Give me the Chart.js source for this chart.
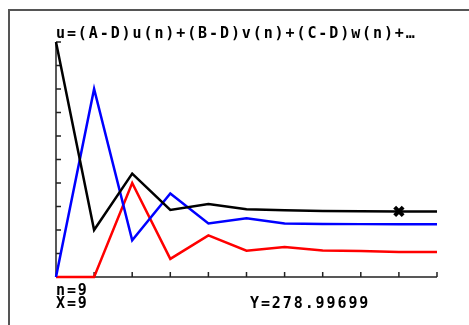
<!DOCTYPE html>
<html>
<head>
<meta charset="utf-8">
<script src="https://cdn.jsdelivr.net/npm/chart.js@4/dist/chart.umd.min.js"></script>
<style>
  html, body { margin: 0; padding: 0; background: #fff; }
  #wrap { width: 469px; height: 325px; position: relative; }
</style>
</head>
<body>
<div id="wrap"><canvas id="seqChart" width="469" height="325"></canvas></div>
<script>
// sequence data (n = 0..10)
const nValues = [0, 1, 2, 3, 4, 5, 6, 7, 8, 9, 10];
const uSeries = [1000, 200, 440, 285, 311, 288, 284, 281, 280, 279, 279];
const vSeries = [0, 800, 156, 355, 228, 250, 228, 226, 225, 224, 224];
const wSeries = [0, 0, 400, 77, 177, 112, 128, 113, 111, 106, 106];
const xTicks = [0, 1, 2, 3, 4, 5, 6, 7, 8, 9, 10];
const yTicks = [0, 100, 200, 300, 400, 500, 600, 700, 800, 900, 1000];

const titleText = "u=(A-D)u(n)+(B-D)v(n)+(C-D)w(n)+…";
const cursorN = 9;
const cursorY = "278.99699";

const toPoints = (ys) => ys.map((y, i) => ({ x: nValues[i], y: y }));

const tiFont = "bold 15px 'DejaVu Sans Mono', monospace";

// axes, ticks, frame and screen text
const calcScreen = {
  id: "calcScreen",
  beforeDatasetsDraw(chart) {
    const ctx = chart.ctx;
    const xs = chart.scales.x;
    const ys = chart.scales.y;
    const x0 = xs.getPixelForValue(0);
    const y0 = ys.getPixelForValue(0);
    ctx.save();
    // outer frame
    ctx.strokeStyle = "#555";
    ctx.lineWidth = 2;
    ctx.beginPath();
    ctx.moveTo(9, 325);
    ctx.lineTo(9, 10);
    ctx.lineTo(469, 10);
    ctx.stroke();
    // axes
    ctx.strokeStyle = "#222";
    ctx.lineWidth = 1.5;
    ctx.beginPath();
    ctx.moveTo(x0, y0);
    ctx.lineTo(xs.getPixelForValue(10), y0);
    ctx.moveTo(x0, y0);
    ctx.lineTo(x0, ys.getPixelForValue(1000));
    xTicks.forEach((t) => {
      const px = xs.getPixelForValue(t);
      ctx.moveTo(px, y0);
      ctx.lineTo(px, y0 - 5);
    });
    yTicks.forEach((t) => {
      const py = ys.getPixelForValue(t);
      ctx.moveTo(x0, py);
      ctx.lineTo(x0 + 5, py);
    });
    ctx.stroke();
    // text
    ctx.fillStyle = "#000";
    ctx.font = tiFont;
    ctx.letterSpacing = "1.9px";
    ctx.textBaseline = "alphabetic";
    ctx.fillText(titleText, 56, 38);
    ctx.fillText("n=" + cursorN, 56, 295);
    ctx.fillText("X=" + cursorN, 56, 308);
    ctx.fillText("Y=" + cursorY, 250, 308);
    ctx.restore();
  },
};

new Chart(document.getElementById("seqChart"), {
  type: "line",
  data: {
    datasets: [
      {
        label: "u",
        data: toPoints(uSeries),
        borderColor: "#000000",
        borderWidth: 2.5,
        pointRadius: 0,
        tension: 0,
        clip: false,
      },
      {
        label: "v",
        data: toPoints(vSeries),
        borderColor: "#0000ff",
        borderWidth: 2.5,
        pointRadius: 0,
        tension: 0,
        clip: false,
      },
      {
        label: "w",
        data: toPoints(wSeries),
        borderColor: "#ff0000",
        borderWidth: 2.5,
        pointRadius: 0,
        tension: 0,
        clip: false,
      },
      {
        // trace cursor on u(9)
        label: "cursor",
        data: [{ x: cursorN, y: uSeries[cursorN] }],
        showLine: false,
        pointStyle: "crossRot",
        pointRadius: 6,
        pointBorderWidth: 4,
        borderColor: "#000000",
        clip: false,
        order: -1,
      },
    ],
  },
  options: {
    responsive: false,
    animation: false,
    layout: { padding: { left: 56, right: 32, top: 42, bottom: 48 } },
    plugins: {
      legend: { display: false },
      tooltip: { enabled: false },
    },
    scales: {
      x: { type: "linear", min: 0, max: 10, display: false },
      y: { type: "linear", min: 0, max: 1000, display: false },
    },
  },
  plugins: [calcScreen],
});
</script>
</body>
</html>
